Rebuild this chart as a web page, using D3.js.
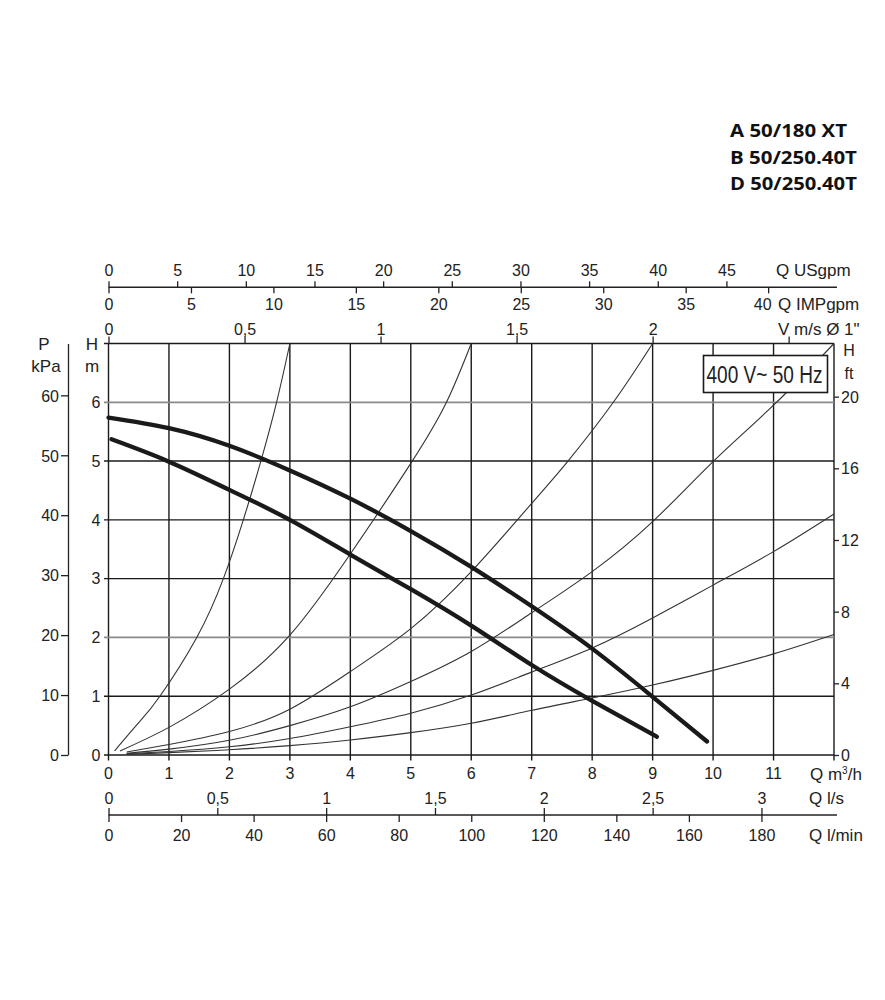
<!DOCTYPE html>
<html>
<head>
<meta charset="utf-8">
<script src="https://cdn.jsdelivr.net/npm/d3@7"></script>
<style>
  body { margin: 0; background: #fff; }
  svg { display: block; font-family: "Liberation Sans", Arial, sans-serif; }
  .tk text { font-size: 16px; fill: #222; }
  .tk line, .tk path { stroke: #222; stroke-width: 1.3; }
  .unit { font-size: 17px; fill: #222; }
</style>
</head>
<body>
<svg id="chart" width="885" height="1000"></svg>
<script>
// models listed top right
const models = ["A 50/180 XT", "B 50/250.40T", "D 50/250.40T"];
const modelWidths = [117, 127, 127];

// pump curves, [Q m3/h, H m]
const pumpUpper = [[0, 5.74], [1, 5.56], [2, 5.26], [3, 4.84], [4, 4.36], [5, 3.81],
  [6, 3.2], [7, 2.53], [8, 1.81], [9, 0.99], [9.9, 0.23]];
const pumpLower = [[0.05, 5.37], [1, 4.99], [2, 4.51], [3, 4.0], [4, 3.41], [5, 2.82], [6, 2.2],
  [7, 1.53], [8, 0.92], [9.07, 0.31]];

// system curves (thin lines)
const sys1 = [[0.1, 0.07], [0.5, 0.55], [0.85, 1], [1.46, 2], [1.9, 3], [2.23, 4], [2.52, 5], [2.78, 6], [3.0, 7]];
const sys2 = [[0.19, 0.07], [1, 0.47], [2, 1.12], [3, 2.04], [4, 3.42], [5, 4.96], [5.59, 6], [6.0, 7]];
const sys3 = [[0.3, 0.05], [1, 0.18], [2, 0.4], [3, 0.78], [4, 1.42], [5, 2.15], [6, 3.12],
  [7, 4.28], [7.6, 5], [8.35, 6], [9.0, 7]];
const sys4 = [[0.3, 0.03], [1, 0.1], [2, 0.25], [3, 0.5], [4, 0.82], [5, 1.25], [6, 1.76], [7, 2.42], [8, 3.12],
  [9, 3.97], [10, 4.99], [11, 5.95], [12, 7]];
const sys5 = [[0.3, 0.02], [1, 0.06], [2, 0.14], [3, 0.28], [4, 0.48], [5, 0.71], [6, 1.02], [7, 1.41], [8, 1.82],
  [9, 2.33], [10, 2.89], [11, 3.46], [12, 4.1]];
const sys6 = [[0.3, 0.01], [1, 0.04], [2, 0.09], [3, 0.16], [4, 0.255], [5, 0.38], [6, 0.54], [7, 0.76], [8, 0.97],
  [9, 1.19], [10, 1.44], [11, 1.72], [12, 2.05]];
const systemCurves = [sys1, sys2, sys3, sys4, sys5, sys6];

// tick labels of the unit scales
const qTicks = [0, 1, 2, 3, 4, 5, 6, 7, 8, 9, 10, 11];
const hTicks = [0, 1, 2, 3, 4, 5, 6];
const grayH = [2, 6];
const kpaTicks = [0, 10, 20, 30, 40, 50, 60];
const ftTicks = [0, 4, 8, 12, 16, 20];
const usgpmTicks = [0, 5, 10, 15, 20, 25, 30, 35, 40, 45];
const impTicks = [0, 5, 10, 15, 20, 25, 30, 35, 40];
const velTicks = [0, 0.5, 1, 1.5, 2, 2.5];
const lsTicks = [0, 0.5, 1, 1.5, 2, 2.5, 3];
const lminTicks = [0, 20, 40, 60, 80, 100, 120, 140, 160, 180];

const Q_MAX = 12, H_MAX = 7;
const X0 = 108.5, X1 = 834, Y0 = 755, Y1 = 343.5;

const svg = d3.select("#chart");
const comma = d => String(d).replace(".", ",");

const x = d3.scaleLinear().domain([0, Q_MAX]).range([X0, X1]);
const y = d3.scaleLinear().domain([0, H_MAX]).range([Y0, Y1]);
// other units on the same pixels
const xUs = d3.scaleLinear().domain([0, Q_MAX * 4.40287]).range([X0, X1]);
const xImp = d3.scaleLinear().domain([0, Q_MAX * 3.66615]).range([X0, X1]);
const xVel = d3.scaleLinear().domain([0, Q_MAX / 4.5]).range([X0, X1]);
const xLs = d3.scaleLinear().domain([0, Q_MAX / 3.6]).range([X0, X1]);
const xLmin = d3.scaleLinear().domain([0, Q_MAX / 0.06]).range([X0, X1]);
const yKpa = d3.scaleLinear().domain([0, H_MAX * 9.80665]).range([Y0, Y1]);
const yFt = d3.scaleLinear().domain([0, H_MAX / 0.3048]).range([Y0, Y1]);

// squeeze a text horizontally to a given width
function fitWidth(sel, w) {
  sel.each(function () {
    const t = d3.select(this);
    const len = this.getComputedTextLength();
    const tx = +t.attr("x"), ty = +t.attr("y");
    t.attr("x", 0).attr("y", 0)
      .attr("transform", `translate(${tx},${ty}) scale(${w / len},1)`);
  });
}

// title
svg.append("g").selectAll("text").data(models).join("text")
  .attr("x", 730).attr("y", (d, i) => 137 + i * 26.5)
  .style("font-family", "'Open Sans', 'Noto Sans', sans-serif")
  .style("font-weight", "bold").style("font-size", "18px").style("fill", "#111")
  .text(d => d)
  .each(function (d, i) { fitWidth(d3.select(this), modelWidths[i]); });

// grid
const grid = svg.append("g");
grid.selectAll("line.v").data(d3.range(0, Q_MAX + 1)).join("line")
  .attr("class", "v")
  .attr("x1", d => x(d)).attr("x2", d => x(d))
  .attr("y1", Y1).attr("y2", Y0 + 5.5)
  .attr("stroke", "#1a1a1a").attr("stroke-width", 1.4);
grid.selectAll("line.h").data(d3.range(0, H_MAX + 1)).join("line")
  .attr("class", "h")
  .attr("x1", X0 - 4.5).attr("x2", X1)
  .attr("y1", d => y(d)).attr("y2", d => y(d))
  .attr("stroke", d => grayH.includes(d) ? "#8a8a8a" : "#1a1a1a")
  .attr("stroke-width", d => grayH.includes(d) ? 1.8 : 1.4);

// bottom Q m3/h labels
svg.append("g").attr("class", "tk").selectAll("text").data(qTicks).join("text")
  .attr("x", d => x(d)).attr("y", 779).attr("text-anchor", "middle").text(d => d);

// left H m
svg.append("g").attr("class", "tk").selectAll("text").data(hTicks).join("text")
  .attr("x", X0 - 8).attr("y", d => y(d)).attr("dy", "0.36em")
  .attr("text-anchor", "end").text(d => d);

// kPa axis
svg.append("g").attr("class", "tk").attr("transform", "translate(68,0)")
  .call(d3.axisLeft(yKpa).tickValues(kpaTicks).tickSizeInner(7).tickSizeOuter(0).tickPadding(2))
  .call(g => g.selectAll("text").attr("dy", "0.36em"));

// ft axis
svg.append("g").attr("class", "tk").attr("transform", `translate(${X1},0)`)
  .call(d3.axisRight(yFt).tickValues(ftTicks).tickSize(5).tickPadding(2))
  .call(g => g.select(".domain").remove())
  .call(g => g.selectAll("text").attr("dy", "0.34em"));

// top: USgpm / IMPgpm
const topY = 287.3;
svg.append("line").attr("x1", X0).attr("x2", 837).attr("y1", topY).attr("y2", topY)
  .attr("stroke", "#222").attr("stroke-width", 1.4);
svg.append("g").attr("class", "tk").attr("transform", `translate(0,${topY})`)
  .call(d3.axisTop(xUs).tickValues(usgpmTicks).tickSize(6))
  .call(g => g.select(".domain").remove())
  .call(g => g.selectAll("text").attr("y", -11).attr("dy", null));
svg.append("g").attr("class", "tk").attr("transform", `translate(0,${topY})`)
  .call(d3.axisBottom(xImp).tickValues(impTicks).tickSize(6))
  .call(g => g.select(".domain").remove())
  .call(g => g.selectAll("text").attr("y", 22.5).attr("dy", null)
    .attr("text-anchor", d => d === 40 ? "end" : "middle")
    .attr("x", d => d === 40 ? 3 : 0));

// velocity axis on the frame
svg.append("g").attr("class", "tk").attr("transform", `translate(0,${Y1})`)
  .call(d3.axisTop(xVel).tickValues(velTicks).tickSize(7).tickFormat(d => d === 2.5 ? "" : comma(d)))
  .call(g => g.select(".domain").remove())
  .call(g => g.selectAll("text").attr("y", -8.5).attr("dy", null));

// bottom: l/s and l/min
const botY = 815;
svg.append("line").attr("x1", X0).attr("x2", 837).attr("y1", botY).attr("y2", botY)
  .attr("stroke", "#222").attr("stroke-width", 1.4);
svg.append("g").attr("class", "tk").attr("transform", `translate(0,${botY})`)
  .call(d3.axisTop(xLs).tickValues(lsTicks).tickSize(7).tickFormat(comma))
  .call(g => g.select(".domain").remove())
  .call(g => g.selectAll("text").attr("y", -11).attr("dy", null));
svg.append("g").attr("class", "tk").attr("transform", `translate(0,${botY})`)
  .call(d3.axisBottom(xLmin).tickValues(lminTicks).tickSize(7))
  .call(g => g.select(".domain").remove())
  .call(g => g.selectAll("text").attr("y", 26).attr("dy", null));

// unit labels
const units = [
  ["Q USgpm", 776, 276, "start", 17], ["Q IMPgpm", 778, 310, "start", 17], ["V m/s Ø 1\"", 778, 335, "start", 17],
  ["Q l/s", 809, 804, "start", 17], ["Q l/min", 809, 841, "start", 17],
  ["P", 44, 350, "middle", 17], ["kPa", 46, 372, "middle", 17], ["H", 92, 350, "middle", 17], ["m", 92, 372, "middle", 17],
  ["H", 849, 356, "middle", 16], ["ft", 849, 379, "middle", 16]
];
svg.append("g").selectAll("text").data(units).join("text")
  .attr("class", "unit").attr("x", d => d[1]).attr("y", d => d[2])
  .attr("text-anchor", d => d[3]).style("font-size", d => d[4] + "px").text(d => d[0]);
const m3 = svg.append("text").attr("class", "unit").attr("x", 810).attr("y", 780);
m3.append("tspan").text("Q m");
m3.append("tspan").attr("dy", -6).style("font-size", "10px").text("3");
m3.append("tspan").attr("dy", 6).text("/h");

// curves
const line = d3.line().x(d => x(d[0])).y(d => y(d[1])).curve(d3.curveNatural);
svg.append("g").selectAll("path").data(systemCurves).join("path")
  .attr("d", line).attr("fill", "none").attr("stroke", "#333").attr("stroke-width", 1.1);
svg.append("g").selectAll("path").data([pumpUpper, pumpLower]).join("path")
  .attr("d", line).attr("fill", "none").attr("stroke", "#1a1a1a")
  .attr("stroke-width", 4.3).attr("stroke-linecap", "round");

// supply box
const box = svg.append("g");
box.append("rect").attr("x", 703.5).attr("y", 355.5).attr("width", 124).attr("height", 37)
  .attr("fill", "#fff").attr("stroke", "#1a1a1a").attr("stroke-width", 1.6);
box.append("text").attr("x", 706.5).attr("y", 383)
  .style("font-family", "'Liberation Sans Narrow', 'Liberation Sans', sans-serif")
  .style("font-size", "24px").style("fill", "#222")
  .text("400 V~ 50 Hz")
  .call(fitWidth, 116);
</script>
</body>
</html>
